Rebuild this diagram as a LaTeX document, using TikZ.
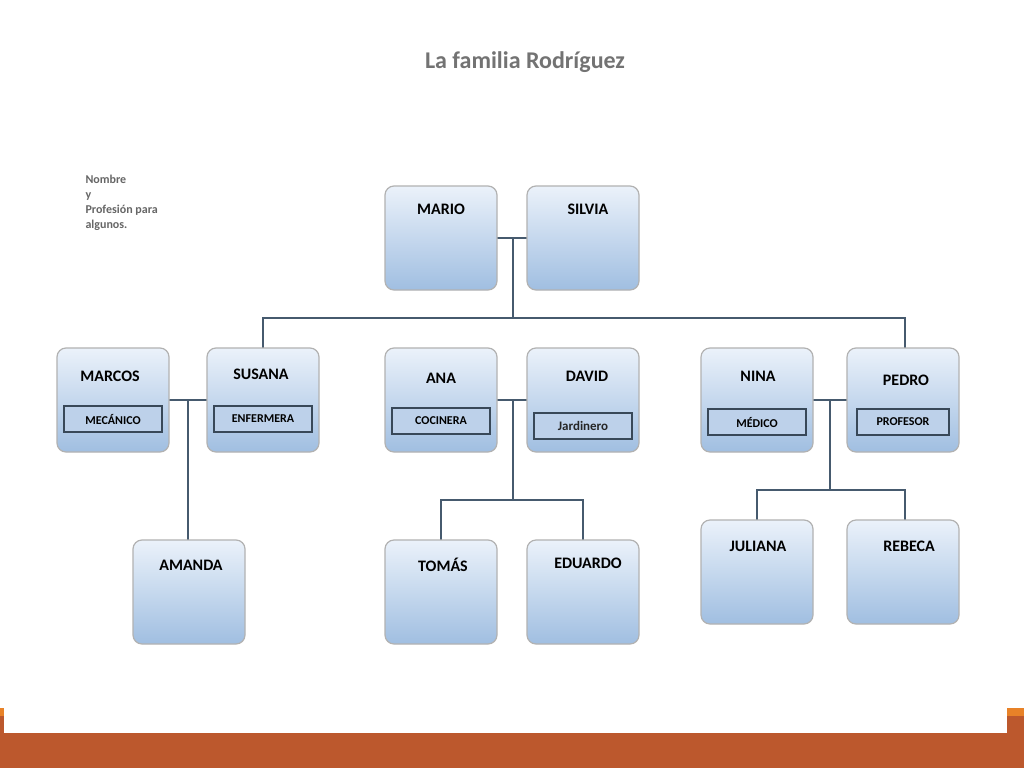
\documentclass[tikz,border=0pt]{standalone}
\usepackage{fontspec}
\setmainfont{Carlito}
\definecolor{rust}{RGB}{188,88,45}
\definecolor{amber}{RGB}{232,130,40}
\definecolor{boxtop}{RGB}{235,242,250}
\definecolor{boxbot}{RGB}{160,190,225}
\definecolor{linecol}{RGB}{70,90,110}
\begin{document}
\begin{tikzpicture}[x=1pt,y=-1pt,
  person/.style={draw=gray!60,line width=1.2pt,rounded corners=9pt,
    top color=boxtop,bottom color=boxbot,minimum width=112pt,minimum height=104pt,inner sep=0pt},
  job/.style={draw=linecol!80!black,line width=1.3pt,fill=boxbot!70,minimum width=98pt,
    minimum height=26pt,inner sep=0pt,font=\bfseries\fontsize{12}{12}\selectfont},
  lbl/.style={font=\bfseries\fontsize{16}{16}\selectfont},
  wire/.style={draw=linecol,line width=2pt}]
   \useasboundingbox (0,0) rectangle (1024,768);
   \fill[white] (0,0) rectangle (1024,768);
   % bottom bar
   \fill[amber] (0,708) rectangle (1024,733);
   \fill[rust] (0,716) rectangle (1024,768);
   \fill[white] (4,708) rectangle (1007,733);
   % title and note
   \node[font=\bfseries\fontsize{24}{24}\selectfont,text=gray!90!black] (title) at (525,62) {La familia Rodríguez};
   \node[anchor=north west,align=left,font=\bfseries\scshape\fontsize{12}{15}\selectfont,text=gray!80!black]
     (note) at (82,172) {Nombre\\y\\Profesión para\\algunos.};
   % wires (behind boxes)
   \draw[wire] (441,238) -- (583,238);
   \draw[wire] (513,238) -- (513,318);
   \draw[wire] (263,348) -- (263,318) -- (905,318) -- (905,348);
   \draw[wire] (113,400) -- (263,400);
   \draw[wire] (188,400) -- (188,592);
   \draw[wire] (441,400) -- (583,400);
   \draw[wire] (513,400) -- (513,500);
   \draw[wire] (441,540) -- (441,500) -- (583,500) -- (583,540);
   \draw[wire] (757,400) -- (905,400);
   \draw[wire] (830,400) -- (830,490);
   \draw[wire] (757,520) -- (757,490) -- (905,490) -- (905,520);
   % persons
   \node[person] (mario) at (441,238) {};
   \node[person] (silvia) at (583,238) {};
   \node[person] (marcos) at (113,400) {};
   \node[person] (susana) at (263,400) {};
   \node[person] (ana) at (441,400) {};
   \node[person] (david) at (583,400) {};
   \node[person] (nina) at (757,400) {};
   \node[person] (pedro) at (903,400) {};
   \node[person] (amanda) at (189,592) {};
   \node[person] (tomas) at (441,592) {};
   \node[person] (eduardo) at (583,592) {};
   \node[person] (juliana) at (757,572) {};
   \node[person] (rebeca) at (903,572) {};
   % names
   \node[lbl] at (441,209) {MARIO};
   \node[lbl] at (588,209) {SILVIA};
   \node[lbl] at (110,376) {MARCOS};
   \node[lbl] at (261,374) {SUSANA};
   \node[lbl] at (441,378) {ANA};
   \node[lbl] at (587,376) {DAVID};
   \node[lbl] at (758,376) {NINA};
   \node[lbl] at (906,380) {PEDRO};
   \node[lbl] at (191,565) {AMANDA};
   \node[lbl] at (443,565) {TOMÁS};
   \node[lbl] at (588,563) {EDUARDO};
   \node[lbl] at (758,546) {JULIANA};
   \node[lbl] at (909,546) {REBECA};
   % jobs
   \node[job] (j1) at (113,419) {MECÁNICO};
   \node[job] (j2) at (263,419) {ENFERMERA};
   \node[job] (j3) at (441,421) {COCINERA};
   \node[job,font=\bfseries\scshape\fontsize{13}{13}\selectfont,text=gray!30!black] (j4) at (583,426) {Jardinero};
   \node[job] (j5) at (757,422) {MÉDICO};
   \node[job,minimum width=92pt] (j6) at (903,422) {PROFESOR};
\end{tikzpicture}
\end{document}
